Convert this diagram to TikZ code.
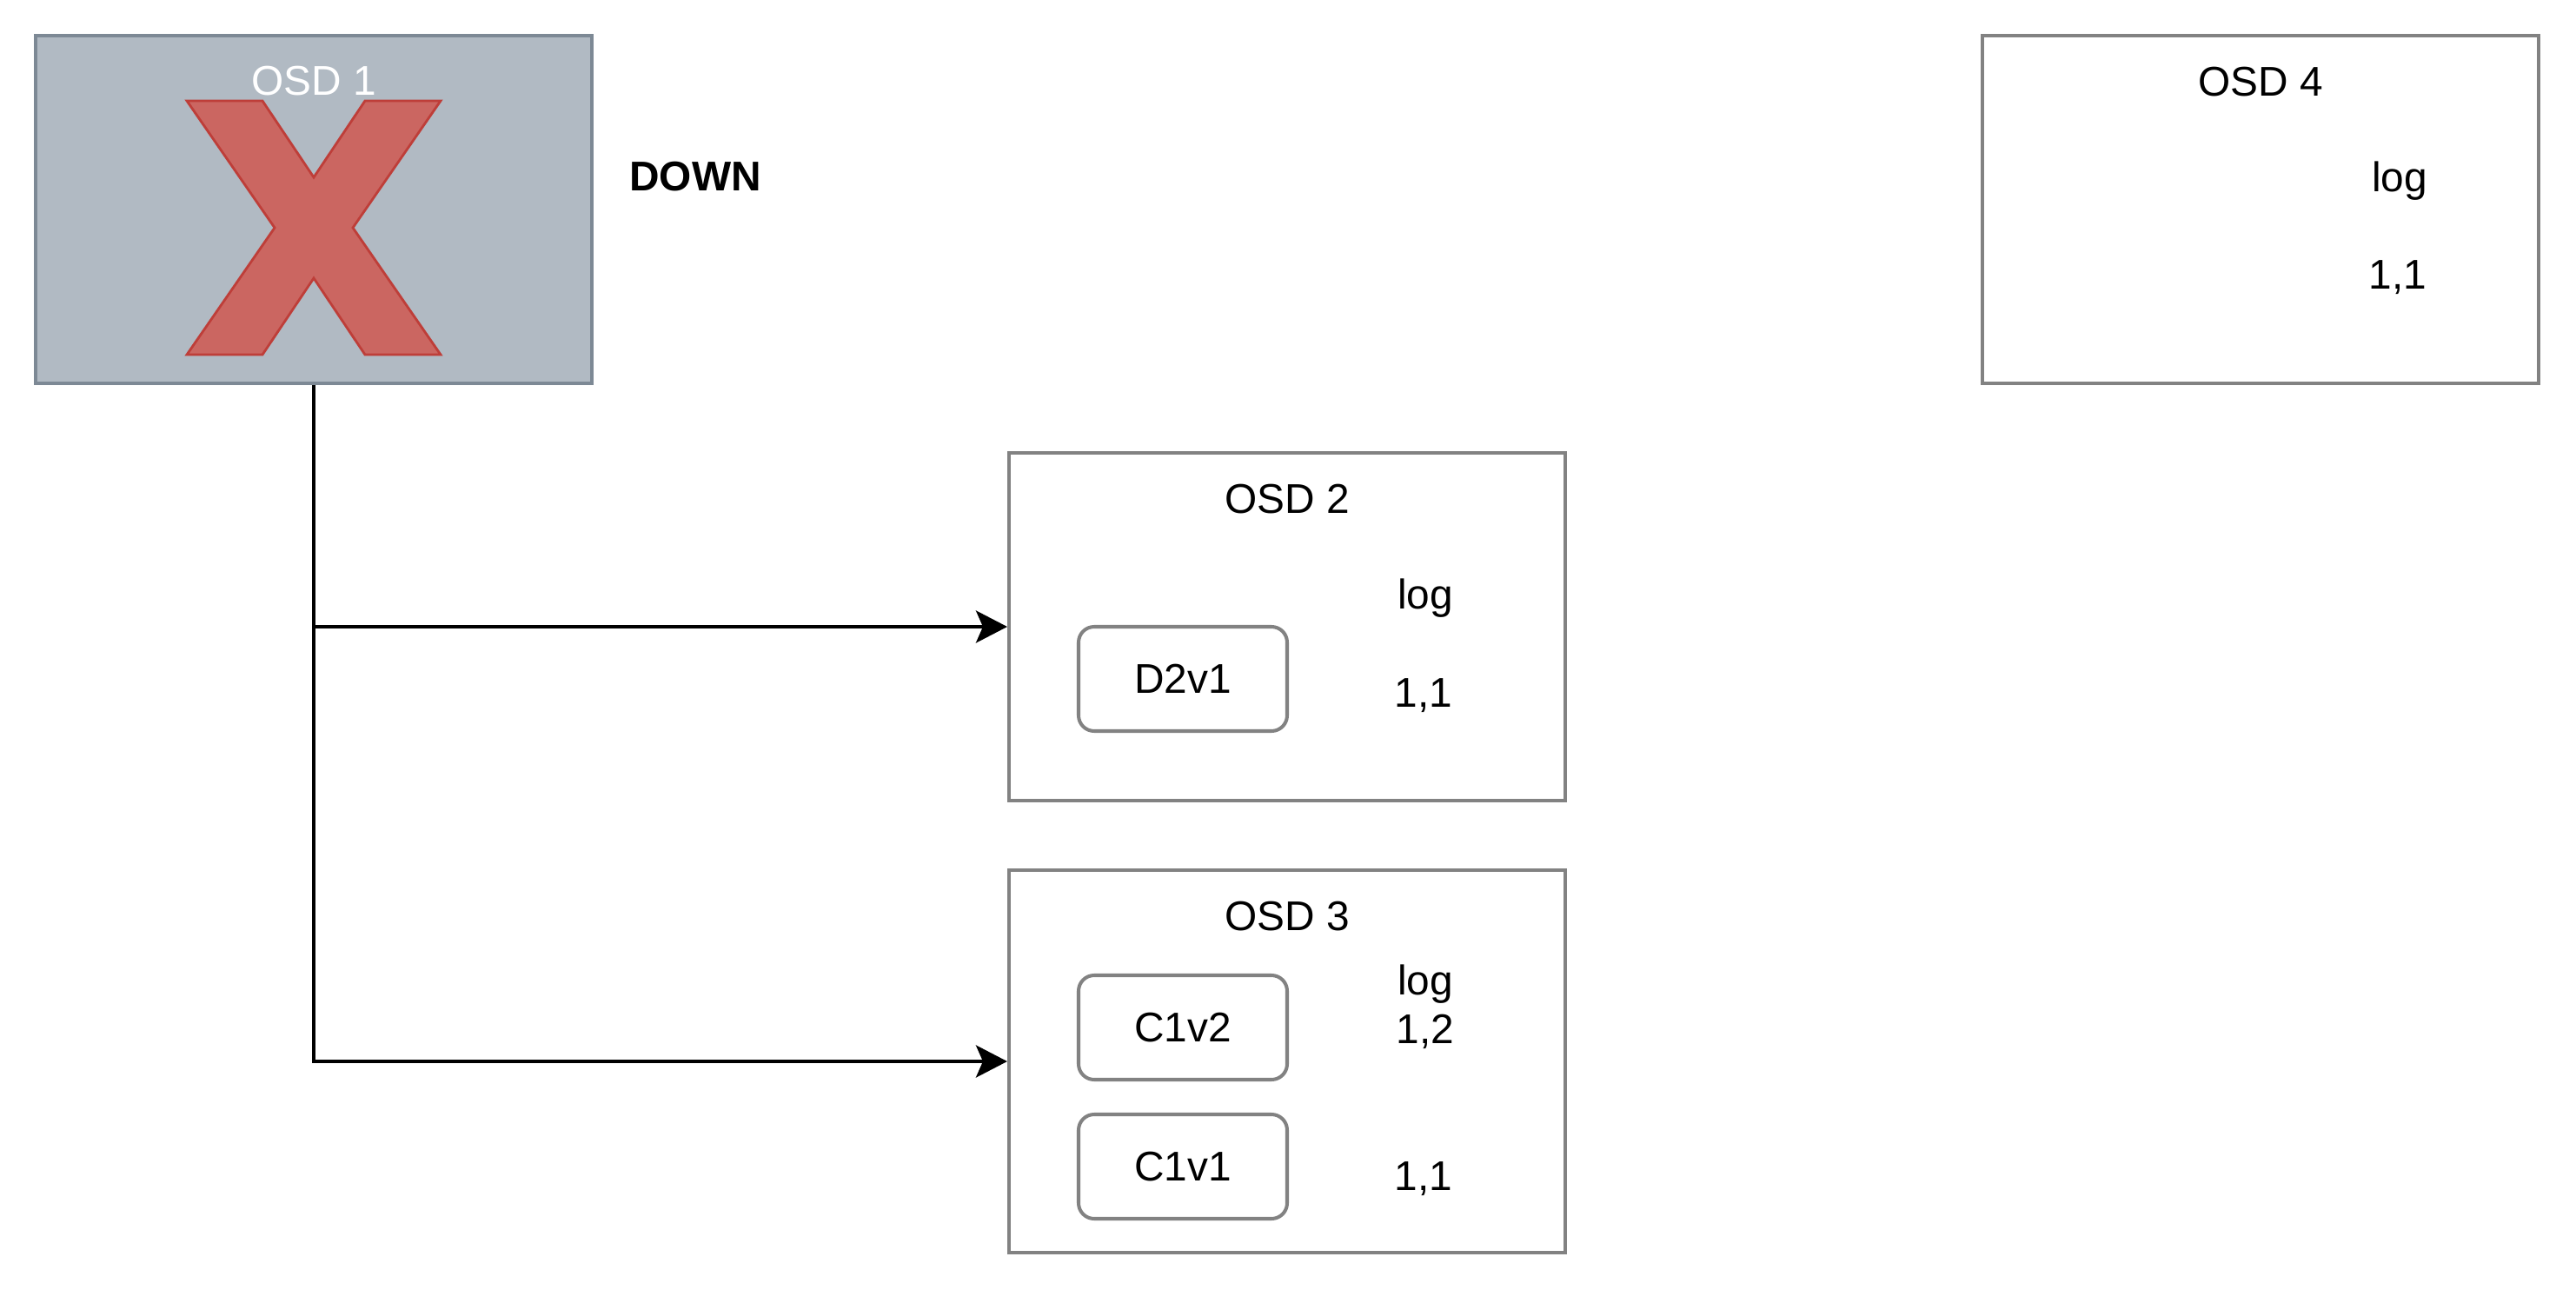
\documentclass[tikz,border=0pt]{standalone}
\usepackage{fontspec}
\setmainfont{Liberation Sans}
\usepackage{tikz}
\usetikzlibrary{arrows.meta,positioning}
\definecolor{osdfill}{HTML}{B1BAC3}
\definecolor{osdline}{HTML}{7D8995}
\definecolor{crossfill}{HTML}{CB6661}
\definecolor{crossline}{HTML}{BE3E39}
\definecolor{boxline}{HTML}{828282}
\tikzstyle{osd}=[rectangle, draw=boxline, line width=1.15pt, minimum width=6.4cm, minimum height=4cm, inner sep=0pt]
\tikzstyle{osddown}=[osd, fill=osdfill, draw=osdline]
\tikzstyle{obj}=[rectangle, rounded corners=0.18cm, draw=boxline, line width=1.15pt, minimum width=2.4cm, minimum height=1.2cm, font=\fontsize{13.6}{16}\selectfont]
\tikzstyle{txt}=[anchor=base, inner sep=0pt, font=\fontsize{13.6}{16}\selectfont]
\tikzstyle{cross}=[fill=crossfill, draw=crossline, line width=0.8pt, line join=miter]
\tikzstyle{arr}=[line width=1.15pt, -{Stealth[length=0.36cm,width=0.37cm,inset=0.08cm]}]

\begin{document}
\begin{tikzpicture}
\useasboundingbox (0,0) rectangle (29.64,-14.84);
\node [osddown] (osd1) at (3.61,-2.41) {};
\begin{scope}[shift={(3.61,-2.62)}]
\draw [cross] (-1.46,1.46) -- (-0.59,1.46) -- (0,0.58) -- (0.59,1.46) -- (1.46,1.46) -- (0.45,0)
  -- (1.46,-1.46) -- (0.59,-1.46) -- (0,-0.58) -- (-0.59,-1.46) -- (-1.46,-1.46) -- (-0.45,0) -- cycle;
\end{scope}
\node [txt, text=white] (osd1title) at ([yshift=-0.71cm]osd1.north) {OSD 1};
\node [txt, font=\fontsize{13.6}{16}\selectfont\bfseries] (down) at (8.0,-2.2) {DOWN};

\node [osd] (osd2) at (14.81,-7.21) {};
\node [txt] (osd2title) at ([yshift=-0.72cm]osd2.north) {OSD 2};
\node [obj] (d2v1) at (13.61,-7.81) {D2v1};
\node [txt] (osd2log) at ([xshift=1.59cm,yshift=-1.82cm]osd2.north) {log};
\node [txt] (osd2v11) at ([xshift=1.57cm,yshift=-2.95cm]osd2.north) {1,1};

\node [osd, minimum height=4.4cm] (osd3) at (14.81,-12.21) {};
\node [txt] (osd3title) at ([yshift=-0.72cm]osd3.north) {OSD 3};
\node [obj] (c1v2) at (13.61,-11.82) {C1v2};
\node [obj] (c1v1) at (13.61,-13.42) {C1v1};
\node [txt] (osd3log) at ([xshift=1.59cm,yshift=-1.46cm]osd3.north) {log};
\node [txt] (osd3v12) at ([xshift=1.59cm,yshift=-2.02cm]osd3.north) {1,2};
\node [txt] (osd3v11) at ([xshift=1.57cm,yshift=-3.71cm]osd3.north) {1,1};

\node [osd] (osd4) at (26.01,-2.41) {};
\node [txt] (osd4title) at ([yshift=-0.72cm]osd4.north) {OSD 4};
\node [txt] (osd4log) at ([xshift=1.6cm,yshift=-1.82cm]osd4.north) {log};
\node [txt] (osd4v11) at ([xshift=1.58cm,yshift=-2.94cm]osd4.north) {1,1};

\draw [arr] (osd1.south) |- (osd2.west);
\draw [arr] (osd1.south) |- (osd3.west);
\end{tikzpicture}
\end{document}
